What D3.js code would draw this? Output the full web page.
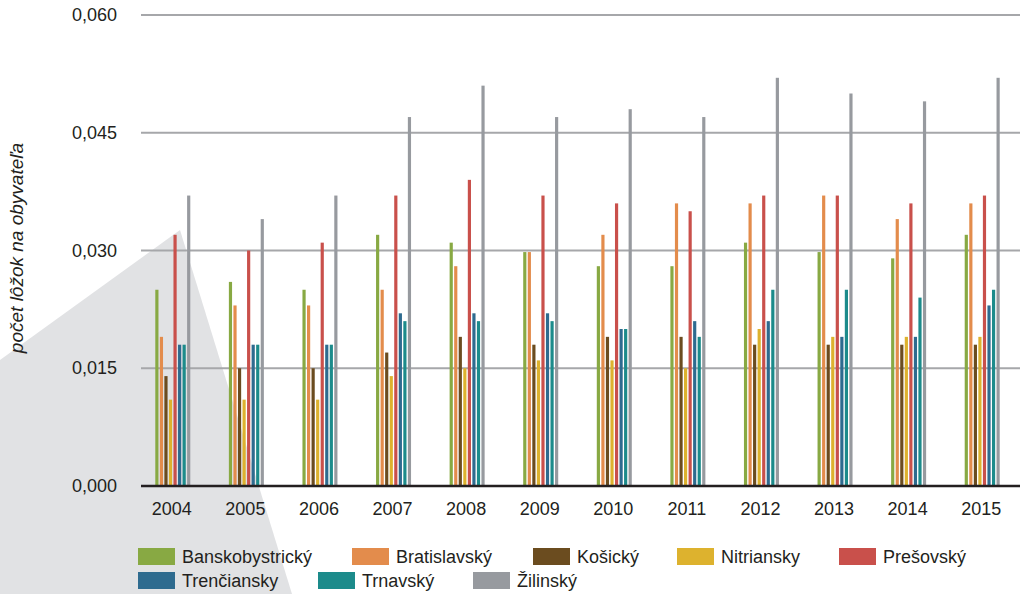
<!DOCTYPE html>
<html>
<head>
<meta charset="utf-8">
<script src="https://cdn.jsdelivr.net/npm/d3@7"></script>
<style>
	body { margin: 0; background: #fff; }
	svg { display: block; font-family: "Liberation Sans", Arial, sans-serif; }
</style>
</head>
<body>
<svg id="chart" width="1026" height="594"></svg>
<script>
	var years = ["2004", "2005", "2006", "2007", "2008", "2009", "2010", "2011", "2012", "2013", "2014", "2015"];
	var regions = ["Banskobystrický", "Bratislavský", "Košický", "Nitriansky", "Prešovský", "Trenčiansky", "Trnavský", "Žilinský"];
	var colors = ["#88a943", "#e38c4c", "#6b4c1f", "#ddb22e", "#c9504b", "#2e6b8f", "#1c8b8b", "#979a9f"];
	var yTicks = [0, 0.015, 0.030, 0.045, 0.060];

	// hodnoty po krajoch, jedna hodnota na rok
	var banskobystricky = [0.025, 0.026, 0.025, 0.032, 0.031, 0.0298, 0.028, 0.028, 0.031, 0.0298, 0.029, 0.032];
	var bratislavsky    = [0.019, 0.023, 0.023, 0.025, 0.028, 0.0298, 0.032, 0.036, 0.036, 0.037, 0.034, 0.036];
	var kosicky         = [0.014, 0.015, 0.015, 0.017, 0.019, 0.018, 0.019, 0.019, 0.018, 0.018, 0.018, 0.018];
	var nitriansky      = [0.011, 0.011, 0.011, 0.014, 0.015, 0.016, 0.016, 0.015, 0.020, 0.019, 0.019, 0.019];
	var presovsky       = [0.032, 0.030, 0.031, 0.037, 0.039, 0.037, 0.036, 0.035, 0.037, 0.037, 0.036, 0.037];
	var trenciansky     = [0.018, 0.018, 0.018, 0.022, 0.022, 0.022, 0.020, 0.021, 0.021, 0.019, 0.019, 0.023];
	var trnavsky        = [0.018, 0.018, 0.018, 0.021, 0.021, 0.021, 0.020, 0.019, 0.025, 0.025, 0.024, 0.025];
	var zilinsky        = [0.037, 0.034, 0.037, 0.047, 0.051, 0.047, 0.048, 0.047, 0.052, 0.050, 0.049, 0.052];

	var series = [banskobystricky, bratislavsky, kosicky, nitriansky, presovsky, trenciansky, trnavsky, zilinsky];

	var svg = d3.select("#chart"),
		plotLeft = 141,
		plotRight = 1020,
		plotTop = 15,
		plotBottom = 486;

	// sivy trojuholnik v pozadi
	svg.append("polygon")
		.attr("points", "0,360 180,230 292,594 0,594")
		.attr("fill", "#e1e2e4");

	var x = d3.scaleBand().domain(years).range([135, 1018]).padding(0);
	var xInner = d3.scaleBand().domain(regions).range([0, 35]).paddingInner(0.3);
	var y = d3.scaleLinear().domain([0, 0.060]).range([plotBottom, plotTop]);

	var fmt = function (d) { return d3.format(".3f")(d).replace(".", ","); };

	// mriezka
	svg.append("g")
		.selectAll("line")
		.data(yTicks.slice(1))
		.enter()
		.append("line")
		.attr("x1", plotLeft)
		.attr("x2", plotRight)
		.attr("y1", function (d) { return y(d); })
		.attr("y2", function (d) { return y(d); })
		.attr("stroke", "#a6a7aa")
		.attr("stroke-width", 2);

	// stlpce
	var groups = svg.append("g")
		.selectAll("g")
		.data(years)
		.enter()
		.append("g")
		.attr("transform", function (d) { return "translate(" + (x(d) + x.bandwidth() / 2 - 16.5) + ",0)"; });

	groups.selectAll("rect")
		.data(function (d, i) {
			return regions.map(function (r, j) { return { region: r, value: series[j][i], color: colors[j] }; });
		})
		.enter()
		.append("rect")
		.attr("x", function (d) { return xInner(d.region); })
		.attr("width", xInner.bandwidth())
		.attr("y", function (d) { return y(d.value); })
		.attr("height", function (d) { return plotBottom - y(d.value); })
		.attr("fill", function (d) { return d.color; });

	// os x
	svg.append("line")
		.attr("x1", plotLeft).attr("x2", plotRight)
		.attr("y1", plotBottom).attr("y2", plotBottom)
		.attr("stroke", "#231f20")
		.attr("stroke-width", 2.5);

	svg.append("g")
		.selectAll("text")
		.data(years)
		.enter()
		.append("text")
		.attr("x", function (d) { return x(d) + x.bandwidth() / 2; })
		.attr("y", 515)
		.attr("text-anchor", "middle")
		.attr("font-size", 18)
		.attr("fill", "#231f20")
		.text(function (d) { return d; });

	// os y
	svg.append("g")
		.selectAll("text")
		.data(yTicks)
		.enter()
		.append("text")
		.attr("x", 117)
		.attr("y", function (d) { return y(d) + 6; })
		.attr("text-anchor", "end")
		.attr("font-size", 18)
		.attr("fill", "#231f20")
		.text(fmt);

	svg.append("text")
		.attr("transform", "translate(23,248) rotate(-90)")
		.attr("text-anchor", "middle")
		.attr("font-size", 19)
		.attr("font-style", "italic")
		.attr("fill", "#231f20")
		.text("počet lôžok na obyvateľa");

	// legenda
	var legendPos = [[138, 548], [352, 548], [533, 548], [677, 548], [839, 548], [138, 572], [318, 572], [473, 572]];
	var legend = svg.append("g")
		.selectAll("g")
		.data(regions)
		.enter()
		.append("g")
		.attr("transform", function (d, i) { return "translate(" + legendPos[i][0] + "," + legendPos[i][1] + ")"; });

	legend.append("rect")
		.attr("width", 37)
		.attr("height", 17)
		.attr("fill", function (d, i) { return colors[i]; });

	legend.append("text")
		.attr("x", 44)
		.attr("y", 15)
		.attr("font-size", 18)
		.attr("fill", "#231f20")
		.text(function (d) { return d; });
</script>
</body>
</html>
